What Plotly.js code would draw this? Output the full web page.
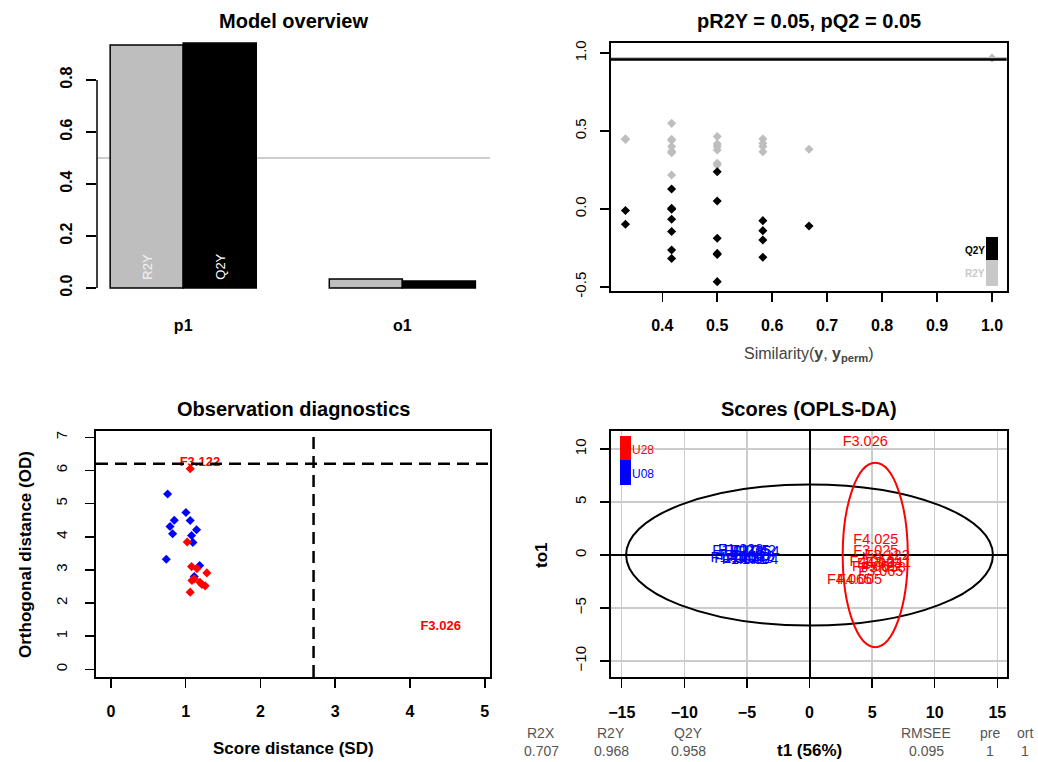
<!DOCTYPE html>
<html><head><meta charset="utf-8">
<script src="https://cdn.plot.ly/plotly-3.0.1.min.js"></script>
<style>html,body{margin:0;padding:0;background:#fff}#chart{width:1038px;height:762px}</style>
</head><body><div id="chart"></div>
<script>
// ---------------- DATA ----------------
// Model overview
const overviewComponents = ['p1', 'o1'];
const overviewR2Y = [0.935, 0.035];
const overviewQ2Y = [0.942, 0.027];
const overviewThreshold = 0.5;

// Permutation test
const permSimilarity = [0.333, 0.333, 0.417, 0.417, 0.417, 0.417, 0.417, 0.417, 0.417,
  0.5, 0.5, 0.5, 0.5, 0.5, 0.5, 0.583, 0.583, 0.583, 0.583, 0.667];
const permR2Y = [0.449, 0.445, 0.549, 0.447, 0.440, 0.400, 0.370, 0.361, 0.218,
  0.464, 0.417, 0.400, 0.378, 0.293, 0.282, 0.449, 0.421, 0.400, 0.367, 0.383];
const permQ2Y = [-0.010, -0.098, 0.128, 0.004, -0.002, -0.066, -0.145, -0.263, -0.318,
  0.239, 0.051, -0.188, -0.285, -0.292, -0.466, -0.075, -0.139, -0.199, -0.310, -0.109];
const modelSimilarity = 1.0;
const modelR2Y = 0.968;
const modelQ2Y = 0.958;
const permTitle = 'pR2Y = 0.05, pQ2 = 0.05';

// Observation diagnostics
const diagSD = [0.758, 1.003, 1.06, 0.847, 0.79, 0.825, 1.145, 1.078, 1.096, 0.74, 1.186, 1.114,
  1.06, 1.02, 1.078, 1.15, 1.283, 1.114, 1.083, 1.19, 1.217, 1.26, 1.06];
const diagOD = [5.29, 4.73, 4.49, 4.50, 4.31, 4.09, 4.21, 4.04, 3.83, 3.32, 3.13, 2.80,
  6.05, 3.84, 3.10, 3.04, 2.91, 2.73, 2.68, 2.63, 2.56, 2.52, 2.33];
const diagGroup = ['U08','U08','U08','U08','U08','U08','U08','U08','U08','U08','U08','U08',
  'U28','U28','U28','U28','U28','U28','U28','U28','U28','U28','U28'];
const diagOutlierNames = ['F3.122', 'F3.026'];
const diagOutlierSD = [1.19, 4.41];
const diagOutlierOD = [6.23, 1.28];
const diagSDLimit = 2.71;
const diagODLimit = 6.2;

// Scores (OPLS-DA)
const scoreNamesU08 = ['F1.011','F1.023','F1.035','F1.042','F1.054','F1.063','F1.071','F1.082','F1.094','F1.105','F1.116','F1.128'];
const scoreT1U08 = [-6.0, -5.5, -5.0, -4.5, -4.2, -5.8, -5.2, -4.8, -4.3, -6.1, -5.4, -4.6];
const scoreTo1U08 = [0.35, 0.4, 0.35, 0.3, 0.25, -0.4, -0.5, -0.45, -0.5, -0.3, -0.1, -0.2];
const scoreNamesU28 = ['F3.026','F4.025','F3.025','F3.122','F4.012','F4.033','F3.041','F4.051','F3.058','F3.065','F4.065','F4.005'];
const scoreT1U28 = [4.45, 5.3, 5.3, 6.2, 5.0, 5.6, 6.3, 5.2, 5.9, 5.7, 3.2, 4.0];
const scoreTo1U28 = [10.6, 1.4, 0.3, -0.1, -0.7, -0.9, -0.8, -1.2, -1.3, -1.6, -2.4, -2.4];
const ellipseCenterT1 = [0, 5.25];
const ellipseCenterTo1 = [0, 0];
const ellipseSemiT1 = [14.65, 2.6];
const ellipseSemiTo1 = [6.65, 8.7];
const ellipseColors = ['black', 'red'];
const groupNames = ['U28', 'U08'];
const groupColors = {U28: 'red', U08: 'blue'};
const summaryNames = ['R2X', 'R2Y', 'Q2Y', 'RMSEE', 'pre', 'ort'];
const summaryValues = ['0.707', '0.968', '0.958', '0.095', '1', '1'];
const scoreXTitle = 't1 (56%)';
const scoreYTitle = 'to1';

// ---------------- LAYOUT HELPERS ----------------
const W = 1038, H = 762;
const FONT = 'Liberation Sans, Arial, sans-serif';
const px = x => x / W;
const py = y => 1 - y / H;
const GRAY = '#BEBEBE';

function boxAxis(extra) {
  return Object.assign({
    showline: true, mirror: true, linecolor: 'black', linewidth: 2,
    ticks: 'outside', ticklen: 9, tickwidth: 1.5, tickcolor: 'black',
    showgrid: false, zeroline: false, ticklabelstandoff: 6,
    tickfont: {family: FONT, size: 16, color: 'black', weight: 'bold'}
  }, extra);
}
function note(o) {
  return Object.assign({xref: 'paper', yref: 'paper', showarrow: false, xanchor: 'center', yanchor: 'middle'}, o);
}

const traces = [];
// Panel 1 bars
const barPos = overviewComponents.map((c, i) => 2 + 3 * i);
traces.push({type: 'bar', x: barPos.map(p => p - 0.5), y: overviewR2Y, width: 1,
  marker: {color: GRAY, line: {color: 'black', width: 1.5}}, xaxis: 'x', yaxis: 'y', hoverinfo: 'none'});
traces.push({type: 'bar', x: barPos.map(p => p + 0.5), y: overviewQ2Y, width: 1,
  marker: {color: 'black', line: {color: 'black', width: 1.5}}, xaxis: 'x', yaxis: 'y', hoverinfo: 'none'});

// Panel 2 permutation
traces.push({type: 'scatter', mode: 'markers', x: permSimilarity.concat([modelSimilarity]), y: permR2Y.concat([modelR2Y]),
  marker: {symbol: 'diamond', size: 7, color: GRAY}, xaxis: 'x2', yaxis: 'y2', hoverinfo: 'none'});
traces.push({type: 'scatter', mode: 'markers', x: permSimilarity, y: permQ2Y,
  marker: {symbol: 'diamond', size: 7, color: 'black'}, xaxis: 'x2', yaxis: 'y2', hoverinfo: 'none'});

// Panel 3 diagnostics
traces.push({type: 'scatter', mode: 'markers', x: diagSD, y: diagOD,
  marker: {symbol: 'diamond', size: 7, color: diagGroup.map(g => groupColors[g])}, xaxis: 'x3', yaxis: 'y3', hoverinfo: 'none'});
traces.push({type: 'scatter', mode: 'text', x: diagOutlierSD, y: diagOutlierOD, text: diagOutlierNames,
  textfont: {family: FONT, size: 13, color: 'red', weight: 'bold'}, xaxis: 'x3', yaxis: 'y3', hoverinfo: 'none'});

// Panel 4 scores
traces.push({type: 'scatter', mode: 'text', x: scoreT1U08, y: scoreTo1U08, text: scoreNamesU08,
  textfont: {family: FONT, size: 14.5, color: 'blue'}, xaxis: 'x4', yaxis: 'y4', hoverinfo: 'none'});
traces.push({type: 'scatter', mode: 'text', x: scoreT1U28, y: scoreTo1U28, text: scoreNamesU28,
  textfont: {family: FONT, size: 14.5, color: 'red'}, xaxis: 'x4', yaxis: 'y4', hoverinfo: 'none'});

const shapes = [];
const annotations = [];

// Panel 1 extras
shapes.push({type: 'line', xref: 'x domain', yref: 'y', x0: 0, x1: 0, y0: 0, y1: 0.8, line: {color: 'black', width: 1.5}});
shapes.push({type: 'line', xref: 'x domain', yref: 'y', x0: 0, x1: 1, y0: overviewThreshold, y1: overviewThreshold, line: {color: GRAY, width: 1.5}, layer: 'below'});
annotations.push({xref: 'x', yref: 'y', x: barPos[0] - 0.5, y: 0, text: 'R2Y', textangle: -90, showarrow: false,
  xanchor: 'center', yanchor: 'bottom', yshift: 6, font: {family: FONT, size: 13, color: '#f4f4f4'}});
annotations.push({xref: 'x', yref: 'y', x: barPos[0] + 0.5, y: 0, text: 'Q2Y', textangle: -90, showarrow: false,
  xanchor: 'center', yanchor: 'bottom', yshift: 6, font: {family: FONT, size: 13, color: 'white'}});

// Panel 2 extras
shapes.push({type: 'line', xref: 'x2 domain', yref: 'y2', x0: 0, x1: 1, y0: modelR2Y, y1: modelR2Y, line: {color: GRAY, width: 2}});
shapes.push({type: 'line', xref: 'x2 domain', yref: 'y2', x0: 0, x1: 1, y0: modelQ2Y, y1: modelQ2Y, line: {color: 'black', width: 2.5}});
shapes.push({type: 'rect', xref: 'paper', yref: 'paper', x0: px(986), x1: px(998), y0: py(260), y1: py(237), fillcolor: 'black', line: {width: 0}});
shapes.push({type: 'rect', xref: 'paper', yref: 'paper', x0: px(986), x1: px(998), y0: py(286), y1: py(260), fillcolor: '#c8c8c8', line: {width: 0}});
annotations.push(note({x: px(987), y: py(250), text: 'Q2Y', xanchor: 'right',
  font: {family: FONT, size: 10, color: 'black', weight: 'bold'}}));
annotations.push(note({x: px(987), y: py(274), text: 'R2Y', xanchor: 'right',
  font: {family: FONT, size: 10, color: '#c8c8c8', weight: 'bold'}}));

// Panel 3 extras
shapes.push({type: 'line', xref: 'x3', yref: 'y3 domain', x0: diagSDLimit, x1: diagSDLimit, y0: 0, y1: 1, line: {color: 'black', width: 2.5, dash: '12px,7px'}});
shapes.push({type: 'line', xref: 'x3 domain', yref: 'y3', x0: 0, x1: 1, y0: diagODLimit, y1: diagODLimit, line: {color: 'black', width: 2.5, dash: '12px,7px'}});

// Panel 4 extras
ellipseCenterT1.forEach((c, i) => {
  shapes.push({type: 'circle', xref: 'x4', yref: 'y4',
    x0: c - ellipseSemiT1[i], x1: c + ellipseSemiT1[i],
    y0: ellipseCenterTo1[i] - ellipseSemiTo1[i], y1: ellipseCenterTo1[i] + ellipseSemiTo1[i],
    line: {color: ellipseColors[i], width: 2}});
});
shapes.push({type: 'rect', xref: 'paper', yref: 'paper', x0: px(620), x1: px(631), y0: py(460), y1: py(436), fillcolor: groupColors[groupNames[0]], line: {width: 0}});
shapes.push({type: 'rect', xref: 'paper', yref: 'paper', x0: px(620), x1: px(631), y0: py(485), y1: py(460), fillcolor: groupColors[groupNames[1]], line: {width: 0}});
groupNames.forEach((g, i) => {
  annotations.push(note({x: px(630), y: py(450 + 24 * i), text: g, xanchor: 'left',
    font: {family: FONT, size: 12, color: groupColors[g]}}));
});
const sumX = [541, 611, 688, 926, 990, 1025];
summaryNames.forEach((n, i) => {
  annotations.push(note({x: px(sumX[i]), y: py(733), text: n, font: {family: FONT, size: 14, color: '#555'}}));
  annotations.push(note({x: px(sumX[i]), y: py(751), text: summaryValues[i], font: {family: FONT, size: 14, color: '#555'}}));
});

// Titles
const titleFont = {family: FONT, size: 20, color: 'black', weight: 'bold'};
const axTitleFont = {family: FONT, size: 17, color: 'black', weight: 'bold'};
[['Model overview', 293, 21], [permTitle, 809, 21], ['Observation diagnostics', 293, 409], ['Scores (OPLS-DA)', 809, 409]].forEach(t => {
  annotations.push(note({x: px(t[1]), y: py(t[2]), text: t[0], font: titleFont}));
});
annotations.push(note({x: px(809), y: py(354), text: 'Similarity(<b>y</b>, <b>y</b><sub><b>perm</b></sub>)',
  font: {family: FONT, size: 16, color: '#444'}}));
annotations.push(note({x: px(25), y: py(555), text: 'Orthogonal distance (OD)', textangle: -90, font: axTitleFont}));
annotations.push(note({x: px(293), y: py(748), text: 'Score distance (SD)', font: axTitleFont}));
annotations.push(note({x: px(541), y: py(555), text: scoreYTitle, textangle: -90, font: axTitleFont}));
annotations.push(note({x: px(809), y: py(750), text: scoreXTitle, font: axTitleFont}));

const regTick = {family: FONT, size: 15, color: 'black'};

const layout = {
  width: W, height: H, margin: {l: 0, r: 0, t: 0, b: 0}, paper_bgcolor: 'white', plot_bgcolor: 'rgba(0,0,0,0)',
  showlegend: false, barmode: 'overlay', font: {family: FONT},
  xaxis: {domain: [px(97), px(490)], range: [0.82, 6.2], anchor: 'y', tickvals: barPos, ticktext: overviewComponents,
    ticks: '', showline: false, showgrid: false, zeroline: false, ticklabelstandoff: 18,
    tickfont: {family: FONT, size: 16, color: 'black', weight: 'bold'}},
  yaxis: {domain: [py(295.8), py(28)], range: [-0.03, 1.0], anchor: 'x', tickvals: [0, 0.2, 0.4, 0.6, 0.8],
    ticktext: ['0.0', '0.2', '0.4', '0.6', '0.8'], tickangle: -90, ticks: 'outside', ticklen: 10, tickwidth: 1.5, tickcolor: 'black',
    showline: false, showgrid: false, zeroline: false, ticklabelstandoff: 8,
    tickfont: {family: FONT, size: 16, color: 'black', weight: 'bold'}},
  xaxis2: boxAxis({domain: [px(611), px(1006.7)], range: [0.3067, 1.0267], anchor: 'y2',
    tickvals: [0.4, 0.5, 0.6, 0.7, 0.8, 0.9, 1.0], ticktext: ['0.4', '0.5', '0.6', '0.7', '0.8', '0.9', '1.0'], ticklabelstandoff: 10}),
  yaxis2: boxAxis({domain: [py(291), py(43)], range: [-0.526, 1.064], anchor: 'x2',
    tickvals: [-0.5, 0, 0.5, 1.0], ticktext: ['-0.5', '0.0', '0.5', '1.0'], tickangle: -90, tickfont: regTick, ticklabelstandoff: 8}),
  xaxis3: boxAxis({domain: [px(96), px(490)], range: [-0.2, 5.07], anchor: 'y3',
    tickvals: [0, 1, 2, 3, 4, 5], ticklabelstandoff: 10}),
  yaxis3: boxAxis({domain: [py(677), py(431)], range: [-0.23, 7.19], anchor: 'x3',
    tickvals: [0, 1, 2, 3, 4, 5, 6, 7], tickangle: -90, tickfont: regTick, ticklabelstandoff: 12}),
  xaxis4: boxAxis({domain: [px(610.7), px(1006.7)], range: [-15.88, 15.75], anchor: 'y4',
    tickvals: [-15, -10, -5, 0, 5, 10, 15], ticklabelstandoff: 10,
    showgrid: true, gridcolor: '#cccccc', gridwidth: 1.5, zeroline: true, zerolinecolor: 'black', zerolinewidth: 2}),
  yaxis4: boxAxis({domain: [py(677.3), py(430.7)], range: [-11.54, 11.73], anchor: 'x4',
    tickvals: [-10, -5, 0, 5, 10], tickangle: -90, tickfont: regTick, ticklabelstandoff: 8,
    showgrid: true, gridcolor: '#cccccc', gridwidth: 1.5, zeroline: true, zerolinecolor: 'black', zerolinewidth: 2}),
  shapes: shapes,
  annotations: annotations
};

Plotly.newPlot('chart', traces, layout, {staticPlot: true, displayModeBar: false});
</script>
</body></html>
